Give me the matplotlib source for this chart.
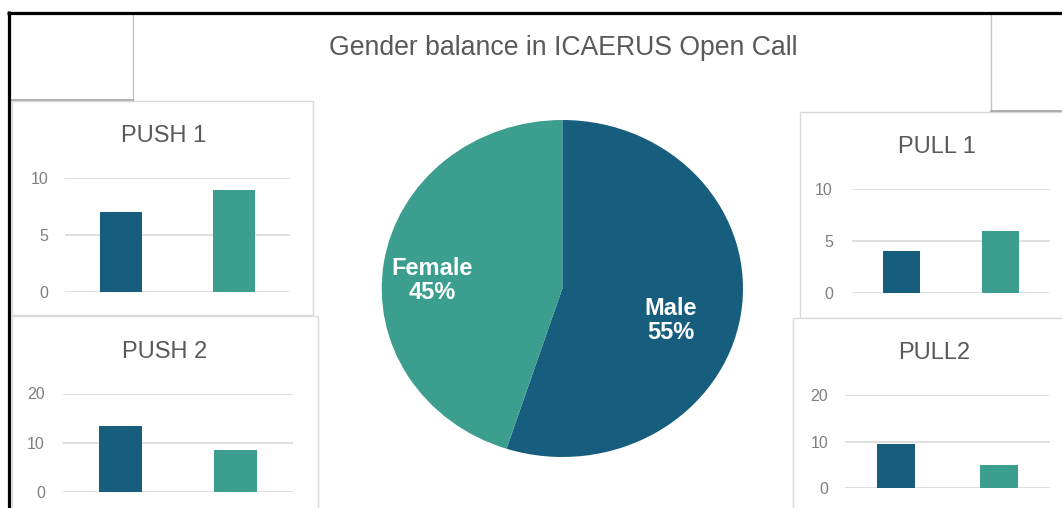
import matplotlib
matplotlib.use("Agg")
import matplotlib.pyplot as plt
from matplotlib.patches import Rectangle

plt.rcParams['font.family'] = ['Liberation Sans', 'DejaVu Sans']

# data
categories = ['Male', 'Female']
pie_shares = [55, 45]
pie_labels = ['Male\n55%', 'Female\n45%']
push1 = [7, 9]
push2 = [13.5, 8.5]
pull1 = [4, 6]
pull2 = [9.5, 5]

dark = '#175e7e'
teal = '#3b9e8e'
bar_colors = [dark, teal]

W, H = 1062, 508
fig = plt.figure(figsize=(W / 100, H / 100), dpi=100)
fig.patch.set_facecolor('white')


def px_axes(x0, y0, x1, y1):
    # axes from pixel box (top-left origin)
    return fig.add_axes([x0 / W, 1 - y1 / H, (x1 - x0) / W, (y1 - y0) / H])


# background layer in pixel coordinates
bg = fig.add_axes([0, 0, 1, 1])
bg.set_xlim(0, W)
bg.set_ylim(H, 0)
bg.axis('off')

bg.add_patch(Rectangle((133, 13), 858, 520, fc='white', ec='#c4c4c4', lw=1))
bg.plot([10, 133], [100, 100], color='#a6a6a6', lw=1.2)
bg.plot([991, 1062], [111, 111], color='#a0a0a0', lw=1.2)

panels = [(12, 101, 301, 214), (12, 316, 306, 200), (800, 112, 280, 206), (793, 318, 280, 200)]
for (x, y, w, h) in panels:
    bg.add_patch(Rectangle((x, y), w, h, fc='white', ec='#d9d9d9', lw=1))

bg.text(563, 48, 'Gender balance in ICAERUS Open Call', ha='center', va='center',
        fontsize=19.2, color='#595959')

titles = [('PUSH 1', 164, 136), ('PUSH 2', 165, 352), ('PULL 1', 937, 147), ('PULL2', 934, 353)]
for t, x, y in titles:
    bg.text(x, y, t, ha='center', va='center', fontsize=17, color='#595959')

# black frame
bg.plot([7, 1062], [12.5, 12.5], color='black', lw=2.3, solid_capstyle='butt')
bg.plot([8.5, 8.5], [11, 508], color='black', lw=2.3, solid_capstyle='butt')

# pie chart
pax = px_axes(381.7, 120, 743, 457)
wedges, _ = pax.pie(pie_shares, colors=bar_colors, startangle=90, counterclock=False,
                    wedgeprops=dict(linewidth=0))
pax.set_aspect('auto')
pax.set_xlim(-1, 1)
pax.set_ylim(-1, 1)
label_pos = [(0.60, -0.19), (-0.72, 0.05)]
for lab, (lx, ly) in zip(pie_labels, label_pos):
    pax.text(lx, ly, lab, ha='center', va='center', color='white', fontsize=17,
             fontweight='bold', linespacing=1.05)


def bar_panel(box, values, ymax, step, pad_px):
    ax = px_axes(*box)
    ax.set_facecolor('none')
    ax.bar(range(len(values)), values, width=0.37, color=bar_colors, zorder=3)
    ax.set_xlim(-0.5, len(values) - 0.5)
    ax.set_ylim(0, ymax)
    ax.set_yticks(range(0, ymax + 1, step))
    ax.set_xticks([])
    ax.grid(axis='y', color='#d9d9d9', lw=1.2, zorder=0)
    for s in ax.spines.values():
        s.set_visible(False)
    ax.tick_params(axis='y', length=0, pad=pad_px * 0.72, labelsize=11.5, labelcolor='#7f7f7f')
    return ax


bar_panel((65, 178.3, 290, 291.7), push1, 10, 5, 17)
bar_panel((63, 393.5, 293, 492), push2, 20, 10, 18)
bar_panel((852, 189.3, 1050, 292.7), pull1, 10, 5, 19)
bar_panel((845, 395, 1050, 488.3), pull2, 20, 10, 17)

fig.savefig('out.png', dpi=100)
